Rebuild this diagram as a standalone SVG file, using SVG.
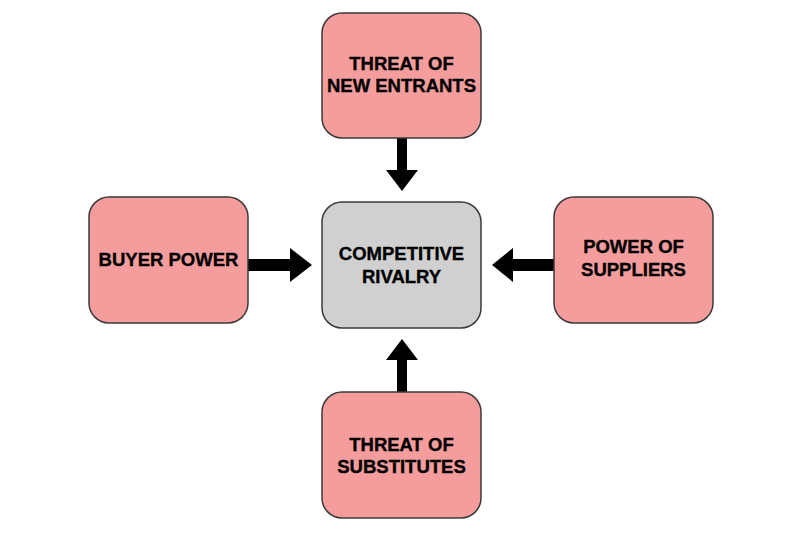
<svg xmlns="http://www.w3.org/2000/svg" width="800" height="535" viewBox="0 0 800 535">
<style>
.box{fill:#F59D9D;stroke:#3a3a3a;stroke-width:1.5}
.core{fill:#D0D0D0;stroke:#3a3a3a;stroke-width:1.5}
.lbl{font-family:"Liberation Sans",Arial,sans-serif;font-weight:bold;font-size:18.5px;fill:#000;stroke:#000;stroke-width:0.35;text-anchor:middle}
.arr{fill:#000}
</style>
<rect width="800" height="535" fill="#fff"/>
<g id="connectors">
<polygon class="arr" points="397,138 407,138 407,170 418,170 402,191 386,170 397,170"/>
<polygon class="arr" points="397,392 407,392 407,360 418,360 402,339 386,360 397,360"/>
<polygon class="arr" points="248,259 290,259 290,248 312,265 290,282 290,271 248,271"/>
<polygon class="arr" points="555,259 513,259 513,248 492,265 513,282 513,271 555,271"/>
</g>
<g id="new-entrants">
<rect class="box" x="322" y="13" width="159" height="125" rx="20"/>
<text class="lbl" x="401.5" y="70">THREAT OF</text>
<text class="lbl" x="401.5" y="92">NEW ENTRANTS</text>
</g>
<g id="rivalry">
<rect class="core" x="322" y="202" width="159" height="126" rx="20"/>
<text class="lbl" x="401.5" y="260">COMPETITIVE</text>
<text class="lbl" x="401.5" y="283">RIVALRY</text>
</g>
<g id="buyer-power">
<rect class="box" x="89" y="197" width="159" height="126" rx="20"/>
<text class="lbl" x="168.5" y="266">BUYER POWER</text>
</g>
<g id="suppliers">
<rect class="box" x="554" y="197" width="159" height="126" rx="20"/>
<text class="lbl" x="633.5" y="253">POWER OF</text>
<text class="lbl" x="633.5" y="276">SUPPLIERS</text>
</g>
<g id="substitutes">
<rect class="box" x="322" y="392" width="159" height="126" rx="20"/>
<text class="lbl" x="401.5" y="451">THREAT OF</text>
<text class="lbl" x="401.5" y="473">SUBSTITUTES</text>
</g>
</svg>
